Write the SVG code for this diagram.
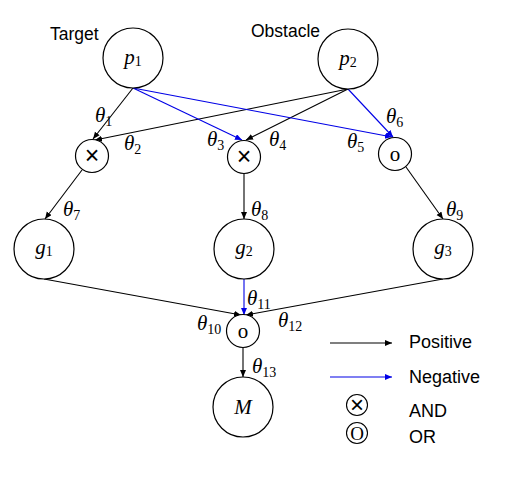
<svg xmlns="http://www.w3.org/2000/svg" width="507" height="478" viewBox="0 0 507 478">
<style>
.node{fill:#fff;stroke:#000;stroke-width:1.2}
.e{stroke:#000;stroke-width:1.1;fill:none;marker-end:url(#ab)}
.n{stroke:#0000e6;stroke-width:1.1;fill:none;marker-end:url(#an)}
.lab{font-family:"Liberation Sans",Arial,sans-serif;font-size:17.5px;fill:#000}
.leg{font-family:"Liberation Sans",Arial,sans-serif;font-size:18px;fill:#000}
.m{font-family:"Liberation Serif","Times New Roman",serif;font-style:italic;font-size:21px;fill:#000}
.s{font-style:normal;font-size:14px}
.op{font-family:"Liberation Serif","Times New Roman",serif;font-size:21px;fill:#000;text-anchor:middle}
.x{font-family:"Liberation Sans",Arial,sans-serif;font-size:25px;fill:#000;text-anchor:middle}
</style>
<defs>
<marker id="ab" markerUnits="userSpaceOnUse" markerWidth="8" markerHeight="8" refX="7" refY="3" orient="auto"><path d="M0,0 L7,3 L0,6 z" fill="#000"/></marker>
<marker id="an" markerUnits="userSpaceOnUse" markerWidth="8" markerHeight="8" refX="7" refY="3" orient="auto"><path d="M0,0 L7,3 L0,6 z" fill="#0000e6"/></marker>
</defs>
<rect width="507" height="478" fill="#fff"/>
<g id="connectors">
<line class="e" x1="133" y1="88" x2="93" y2="139"/>
<line class="e" x1="348" y1="89" x2="95" y2="140"/>
<line class="n" x1="133" y1="88" x2="242" y2="140"/>
<line class="e" x1="348" y1="89" x2="246" y2="140"/>
<line class="n" x1="133" y1="88" x2="392" y2="137"/>
<line class="n" x1="348" y1="89" x2="393" y2="137"/>
<line class="e" x1="82" y1="170" x2="45" y2="219"/>
<line class="e" x1="244" y1="173" x2="244" y2="219"/>
<line class="e" x1="406" y1="167" x2="443" y2="219"/>
<line class="e" x1="44" y1="279" x2="241" y2="315"/>
<line class="n" x1="244" y1="279" x2="244" y2="315"/>
<line class="e" x1="443" y1="279" x2="246" y2="315"/>
<line class="e" x1="243" y1="348" x2="243" y2="377"/>
</g>
<g id="labels">
<text class="m" x="95" y="122">θ<tspan class="s" dy="4">1</tspan></text>
<text class="m" x="124" y="150">θ<tspan class="s" dy="4">2</tspan></text>
<text class="m" x="207" y="146">θ<tspan class="s" dy="4">3</tspan></text>
<text class="m" x="269" y="146">θ<tspan class="s" dy="4">4</tspan></text>
<text class="m" x="347" y="148">θ<tspan class="s" dy="4">5</tspan></text>
<text class="m" x="386" y="123">θ<tspan class="s" dy="4">6</tspan></text>
<text class="m" x="63" y="216">θ<tspan class="s" dy="4">7</tspan></text>
<text class="m" x="251" y="216">θ<tspan class="s" dy="4">8</tspan></text>
<text class="m" x="446" y="216">θ<tspan class="s" dy="4">9</tspan></text>
<text class="m" x="197" y="330">θ<tspan class="s" dy="4">10</tspan></text>
<text class="m" x="247" y="305">θ<tspan class="s" dy="4">11</tspan></text>
<text class="m" x="278" y="327">θ<tspan class="s" dy="4">12</tspan></text>
<text class="m" x="252" y="373">θ<tspan class="s" dy="4">13</tspan></text>
<text class="lab" x="50" y="40">Target</text>
<text class="lab" x="251" y="37">Obstacle</text>
</g>
<g id="p1"><circle class="node" cx="133" cy="58" r="30"/><text class="m" x="133" y="64" text-anchor="middle">p<tspan class="s" dy="2">1</tspan></text></g>
<g id="p2"><circle class="node" cx="348" cy="59" r="30"/><text class="m" x="348" y="65" text-anchor="middle">p<tspan class="s" dy="2">2</tspan></text></g>
<g id="and1"><circle class="node" cx="92" cy="156" r="16.5"/><text class="x" x="92" y="164">×</text></g>
<g id="and2"><circle class="node" cx="244" cy="157" r="16.5"/><text class="x" x="244" y="165">×</text></g>
<g id="or1"><circle class="node" cx="395" cy="154" r="16.5"/><text class="op" x="395" y="161">o</text></g>
<g id="g1"><circle class="node" cx="44" cy="249" r="30"/><text class="m" x="44" y="254" text-anchor="middle">g<tspan class="s" dy="2">1</tspan></text></g>
<g id="g2"><circle class="node" cx="244" cy="249" r="30"/><text class="m" x="244" y="254" text-anchor="middle">g<tspan class="s" dy="2">2</tspan></text></g>
<g id="g3"><circle class="node" cx="443" cy="249" r="30"/><text class="m" x="443" y="254" text-anchor="middle">g<tspan class="s" dy="2">3</tspan></text></g>
<g id="or2"><circle class="node" cx="243" cy="331" r="16.5"/><text class="op" x="243" y="338">o</text></g>
<g id="M"><circle class="node" cx="243" cy="407" r="30"/><text class="m" x="243" y="414" text-anchor="middle">M</text></g>
<g id="legend">
<line class="e" x1="330" y1="343" x2="392" y2="343"/>
<line class="n" x1="330" y1="377" x2="392" y2="377"/>
<text class="leg" x="409" y="348">Positive</text>
<text class="leg" x="409" y="383">Negative</text>
<circle cx="357" cy="405" r="10.5" fill="none" stroke="#000" stroke-width="1.1"/>
<text class="x" x="357" y="413" style="font-size:24px">×</text>
<text class="leg" x="409" y="417">AND</text>
<circle cx="357" cy="433" r="10.5" fill="none" stroke="#000" stroke-width="1.1"/>
<text class="op" x="357" y="440" style="font-size:19px">O</text>
<text class="leg" x="409" y="443">OR</text>
</g>
</svg>
